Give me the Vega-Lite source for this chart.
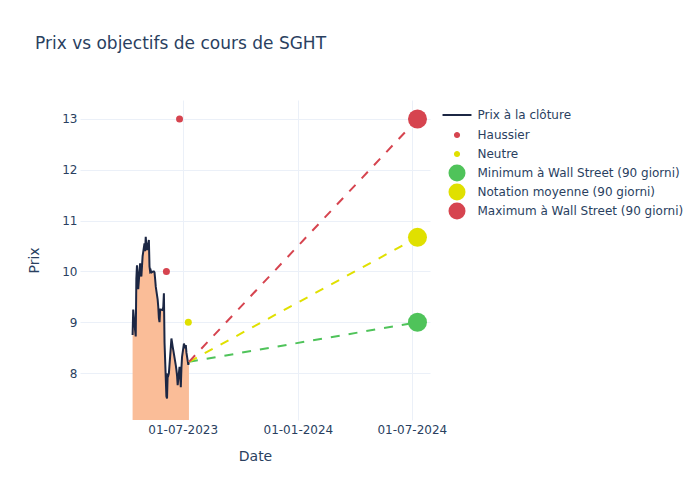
{
  "$schema": "https://vega.github.io/schema/vega-lite/v6.json",
  "width": 350,
  "height": 320,
  "autosize": {"type": "none"},
  "padding": {"left": 80, "top": 100, "right": 270, "bottom": 80},
  "background": "white",
  "title": {"text": "Prix vs objectifs de cours de SGHT", "anchor": "start", "frame": "group", "dx": -45, "offset": 47, "fontSize": 17, "fontWeight": "normal", "color": "#2a3f5f", "font": "DejaVu Sans"},
  "config": {
    "view": {"stroke": null},
    "font": "DejaVu Sans",
    "axis": {"domain": false, "ticks": false, "gridColor": "#ebf0f8", "gridWidth": 1, "labelColor": "#2a3f5f", "labelFontSize": 12, "titleColor": "#2a3f5f", "titleFontSize": 14, "titleFontWeight": "normal", "labelFont": "DejaVu Sans", "titleFont": "DejaVu Sans"}
  },
  "datasets": {
    "price": [
      {"date": "2023-04-12", "price": 8.75, "series": "Prix à la clôture"},
      {"date": "2023-04-13", "price": 9.25, "series": "Prix à la clôture"},
      {"date": "2023-04-14", "price": 9.1, "series": "Prix à la clôture"},
      {"date": "2023-04-17", "price": 8.72, "series": "Prix à la clôture"},
      {"date": "2023-04-18", "price": 9.85, "series": "Prix à la clôture"},
      {"date": "2023-04-19", "price": 10.12, "series": "Prix à la clôture"},
      {"date": "2023-04-20", "price": 9.95, "series": "Prix à la clôture"},
      {"date": "2023-04-21", "price": 9.65, "series": "Prix à la clôture"},
      {"date": "2023-04-24", "price": 10.16, "series": "Prix à la clôture"},
      {"date": "2023-04-25", "price": 9.95, "series": "Prix à la clôture"},
      {"date": "2023-04-26", "price": 9.9, "series": "Prix à la clôture"},
      {"date": "2023-04-27", "price": 10.1, "series": "Prix à la clôture"},
      {"date": "2023-04-28", "price": 10.3, "series": "Prix à la clôture"},
      {"date": "2023-05-01", "price": 10.55, "series": "Prix à la clôture"},
      {"date": "2023-05-02", "price": 10.4, "series": "Prix à la clôture"},
      {"date": "2023-05-03", "price": 10.68, "series": "Prix à la clôture"},
      {"date": "2023-05-04", "price": 10.5, "series": "Prix à la clôture"},
      {"date": "2023-05-05", "price": 10.42, "series": "Prix à la clôture"},
      {"date": "2023-05-08", "price": 10.62, "series": "Prix à la clôture"},
      {"date": "2023-05-09", "price": 10.1, "series": "Prix à la clôture"},
      {"date": "2023-05-10", "price": 10.0, "series": "Prix à la clôture"},
      {"date": "2023-05-11", "price": 10.02, "series": "Prix à la clôture"},
      {"date": "2023-05-12", "price": 9.98, "series": "Prix à la clôture"},
      {"date": "2023-05-15", "price": 10.0, "series": "Prix à la clôture"},
      {"date": "2023-05-16", "price": 10.0, "series": "Prix à la clôture"},
      {"date": "2023-05-17", "price": 9.98, "series": "Prix à la clôture"},
      {"date": "2023-05-18", "price": 9.85, "series": "Prix à la clôture"},
      {"date": "2023-05-19", "price": 9.7, "series": "Prix à la clôture"},
      {"date": "2023-05-22", "price": 9.45, "series": "Prix à la clôture"},
      {"date": "2023-05-23", "price": 9.3, "series": "Prix à la clôture"},
      {"date": "2023-05-24", "price": 9.08, "series": "Prix à la clôture"},
      {"date": "2023-05-25", "price": 9.0, "series": "Prix à la clôture"},
      {"date": "2023-05-26", "price": 9.25, "series": "Prix à la clôture"},
      {"date": "2023-05-30", "price": 9.24, "series": "Prix à la clôture"},
      {"date": "2023-05-31", "price": 9.3, "series": "Prix à la clôture"},
      {"date": "2023-06-01", "price": 9.57, "series": "Prix à la clôture"},
      {"date": "2023-06-02", "price": 8.6, "series": "Prix à la clôture"},
      {"date": "2023-06-05", "price": 7.54, "series": "Prix à la clôture"},
      {"date": "2023-06-06", "price": 7.5, "series": "Prix à la clôture"},
      {"date": "2023-06-07", "price": 7.96, "series": "Prix à la clôture"},
      {"date": "2023-06-08", "price": 7.95, "series": "Prix à la clôture"},
      {"date": "2023-06-09", "price": 8.0, "series": "Prix à la clôture"},
      {"date": "2023-06-12", "price": 8.5, "series": "Prix à la clôture"},
      {"date": "2023-06-13", "price": 8.68, "series": "Prix à la clôture"},
      {"date": "2023-06-14", "price": 8.6, "series": "Prix à la clôture"},
      {"date": "2023-06-15", "price": 8.52, "series": "Prix à la clôture"},
      {"date": "2023-06-16", "price": 8.45, "series": "Prix à la clôture"},
      {"date": "2023-06-20", "price": 8.15, "series": "Prix à la clôture"},
      {"date": "2023-06-21", "price": 8.06, "series": "Prix à la clôture"},
      {"date": "2023-06-22", "price": 7.95, "series": "Prix à la clôture"},
      {"date": "2023-06-23", "price": 7.76, "series": "Prix à la clôture"},
      {"date": "2023-06-26", "price": 8.12, "series": "Prix à la clôture"},
      {"date": "2023-06-27", "price": 7.95, "series": "Prix à la clôture"},
      {"date": "2023-06-28", "price": 7.72, "series": "Prix à la clôture"},
      {"date": "2023-06-29", "price": 8.1, "series": "Prix à la clôture"},
      {"date": "2023-06-30", "price": 8.32, "series": "Prix à la clôture"},
      {"date": "2023-07-03", "price": 8.58, "series": "Prix à la clôture"},
      {"date": "2023-07-05", "price": 8.49, "series": "Prix à la clôture"},
      {"date": "2023-07-06", "price": 8.55, "series": "Prix à la clôture"},
      {"date": "2023-07-07", "price": 8.4, "series": "Prix à la clôture"},
      {"date": "2023-07-10", "price": 8.16, "series": "Prix à la clôture"},
      {"date": "2023-07-11", "price": 8.22, "series": "Prix à la clôture"}
    ],
    "ratings": [
      {"date": "2023-06-05", "price": 10.0, "series": "Haussier"},
      {"date": "2023-06-26", "price": 13.0, "series": "Haussier"},
      {"date": "2023-07-10", "price": 9.0, "series": "Neutre"}
    ],
    "targets": [
      {"date": "2024-07-10", "price": 9.0, "series": "Minimum à Wall Street (90 giorni)"},
      {"date": "2024-07-10", "price": 10.67, "series": "Notation moyenne (90 giorni)"},
      {"date": "2024-07-10", "price": 13.0, "series": "Maximum à Wall Street (90 giorni)"}
    ],
    "projections": [
      {"date": "2023-07-11", "price": 8.22, "series": "Minimum à Wall Street (90 giorni)"},
      {"date": "2024-07-10", "price": 9.0, "series": "Minimum à Wall Street (90 giorni)"},
      {"date": "2023-07-11", "price": 8.22, "series": "Notation moyenne (90 giorni)"},
      {"date": "2024-07-10", "price": 10.67, "series": "Notation moyenne (90 giorni)"},
      {"date": "2023-07-11", "price": 8.22, "series": "Maximum à Wall Street (90 giorni)"},
      {"date": "2024-07-10", "price": 13.0, "series": "Maximum à Wall Street (90 giorni)"}
    ]
  },
  "encoding": {
    "x": {
      "field": "date", "type": "temporal", "title": "Date",
      "scale": {"type": "utc", "domain": [{"year": 2023, "month": 1, "date": 18, "utc": true}, {"year": 2024, "month": 7, "date": 30, "utc": true}]},
      "axis": {"values": [{"year": 2023, "month": 7, "date": 1, "utc": true}, {"year": 2024, "month": 1, "date": 1, "utc": true}, {"year": 2024, "month": 7, "date": 1, "utc": true}], "format": "%d-%m-%Y", "labelPadding": 4, "titlePadding": 14, "labelFlush": false, "labelOverlap": false}
    },
    "y": {
      "field": "price", "type": "quantitative", "title": "Prix",
      "scale": {"domain": [7.075, 13.374], "zero": false, "nice": false},
      "axis": {"values": [8, 9, 10, 11, 12, 13], "labelPadding": 3, "titlePadding": 20}
    }
  },
  "layer": [
    {
      "data": {"name": "price"},
      "mark": {"type": "area", "color": "#fabd98", "opacity": 1, "clip": true, "interpolate": "linear"}
    },
    {
      "data": {"name": "price"},
      "mark": {"type": "line", "strokeWidth": 2, "clip": true},
      "encoding": {
        "color": {
          "field": "series", "type": "nominal",
          "scale": {
            "domain": ["Prix à la clôture", "Haussier", "Neutre", "Minimum à Wall Street (90 giorni)", "Notation moyenne (90 giorni)", "Maximum à Wall Street (90 giorni)"],
            "range": ["#1c2744", "#d6444f", "#e0e000", "#4fc35a", "#e0e000", "#d6444f"]
          },
          "legend": {
            "orient": "none", "legendX": 368.5, "legendY": 6.5, "title": null, "padding": 0,
            "rowPadding": 2, "labelOffset": 12, "labelFontSize": 12, "labelColor": "#2a3f5f", "labelFont": "DejaVu Sans",
            "symbolSize": 289, "symbolStrokeWidth": 0, "labelLimit": 0,
            "encode": {
              "symbols": {
                "update": {
                  "shape": {"signal": "(datum.value === 'Prix à la clôture' ? 'M0,-0.7M0,0.7M-1.93,0H1.93' : ((datum.value === 'Haussier' || datum.value === 'Neutre') ? 'M0,-1M0,1M-0.36,0A0.36,0.36,0,1,0,0.36,0A0.36,0.36,0,1,0,-0.36,0Z' : 'circle'))"},
                  "size": {"signal": "(datum.value === 'Prix à la clôture' ? 225 : 289)"},
                  "fill": {"signal": "(datum.value === 'Prix à la clôture' ? 'transparent' : scale('color', datum.value))"},
                  "stroke": {"signal": "scale('color', datum.value)"},
                  "strokeWidth": {"signal": "(datum.value === 'Prix à la clôture' ? 2 : 0)"},
                  "opacity": {"value": 1},
                  "fillOpacity": {"value": 1},
                  "strokeOpacity": {"value": 1}
                }
              }
            }
          }
        }
      }
    },
    {
      "data": {"name": "projections"},
      "mark": {"type": "line", "strokeWidth": 2, "strokeDash": [9, 9], "clip": true},
      "encoding": {"color": {"field": "series", "type": "nominal"}}
    },
    {
      "data": {"name": "ratings"},
      "mark": {"type": "point", "shape": "circle", "filled": true, "opacity": 1, "size": 49},
      "encoding": {"color": {"field": "series", "type": "nominal"}}
    },
    {
      "data": {"name": "targets"},
      "mark": {"type": "point", "shape": "circle", "filled": true, "opacity": 1, "size": 361},
      "encoding": {"color": {"field": "series", "type": "nominal"}}
    }
  ]
}
